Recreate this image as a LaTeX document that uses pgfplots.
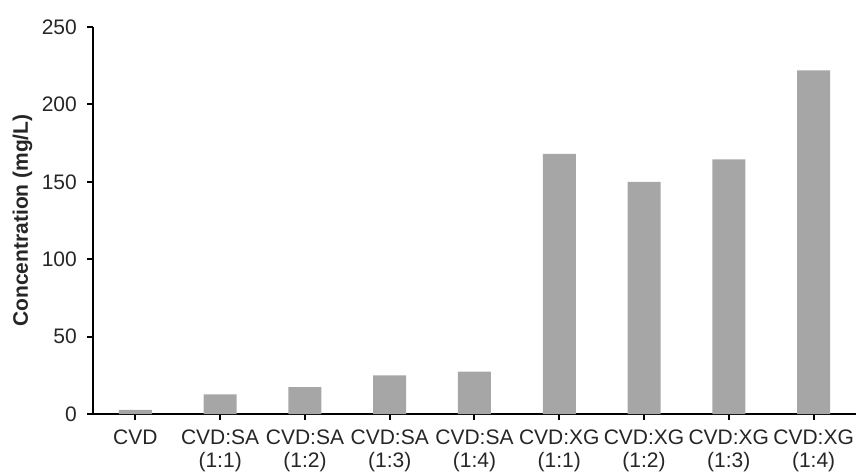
\documentclass[border=0pt]{standalone}
\usepackage{fontspec}
\setmainfont{Liberation Sans}
\usepackage{pgfplots}
\pgfplotsset{compat=1.18}
\definecolor{bargray}{HTML}{A6A6A6}
\begin{document}
\begin{tikzpicture}
\path[use as bounding box] (-93pt,-61pt) rectangle (763pt,414pt);
\begin{axis}[
 at={(0,0)}, anchor=south west,
 scale only axis, width=763pt, height=387pt,
 xmin=-0.5, xmax=8.5, ymin=0, ymax=250,
 axis x line*=bottom, axis y line*=left,
 axis line style={line width=2.5pt, black},
 ytick={0,50,...,250}, xtick={0,...,8},
 xticklabels={CVD, {CVD:SA\\(1:1)}, {CVD:SA\\(1:2)}, {CVD:SA\\(1:3)}, {CVD:SA\\(1:4)}, {CVD:XG\\(1:1)}, {CVD:XG\\(1:2)}, {CVD:XG\\(1:3)}, {CVD:XG\\(1:4)}},
 tick align=outside, major tick length=6pt,
 tick style={line width=2pt, black},
 /pgf/number format/assume math mode=true,
 tick label style={font=\fontsize{21}{23}\selectfont, text=black!85},
 x tick label style={align=center, inner sep=0pt, anchor=north, yshift=-10pt},
 y tick label style={inner sep=0pt, anchor=east, xshift=-10pt},
 ylabel={Concentration (mg/L)},
 ylabel style={font=\bfseries\fontsize{21}{24}\selectfont, text=black!85, at={(axis description cs:0,0.5)}, anchor=center, yshift=70.5pt},
 ybar, bar width=33pt,
]
\addplot[fill=bargray, draw=none] coordinates {(0,2.6) (1,12.7) (2,17.4) (3,25) (4,27.3) (5,168) (6,150) (7,164.5) (8,222)};
\end{axis}
\end{tikzpicture}
\end{document}
